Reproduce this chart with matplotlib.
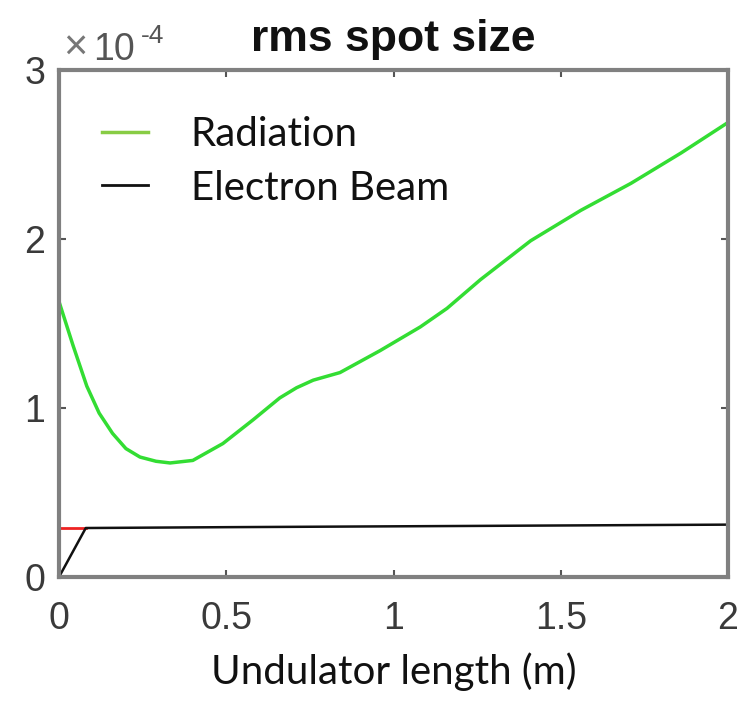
import matplotlib
matplotlib.use("Agg")
import matplotlib.pyplot as plt
from matplotlib.lines import Line2D

# Data (y in units of 1e-4)
rad_x = [0, 0.042, 0.083, 0.12, 0.16, 0.20, 0.242, 0.29, 0.332, 0.40, 0.49, 0.58,
         0.66, 0.71, 0.76, 0.84, 0.96, 1.08, 1.16, 1.26, 1.41, 1.56, 1.71, 1.86, 2.0]
rad_y = [1.63, 1.37, 1.13, 0.97, 0.85, 0.76, 0.71, 0.685, 0.675, 0.69, 0.79, 0.93,
         1.06, 1.12, 1.165, 1.21, 1.34, 1.48, 1.59, 1.76, 1.99, 2.17, 2.33, 2.51, 2.69]
eb_x = [0, 0.08, 0.5, 1.0, 1.5, 2.0]
eb_y = [0, 0.29, 0.295, 0.30, 0.305, 0.31]
red_x = [0, 0.08]
red_y = [0.29, 0.29]
scale = 1e-4

xticks = [0, 0.5, 1, 1.5, 2]
xticklabels = ["0", "0.5", "1", "1.5", "2"]
yticks = [0, 1, 2, 3]
yticklabels = ["0", "1", "2", "3"]

W, H = 747, 708
fig = plt.figure(figsize=(W / 100, H / 100), dpi=100)
ax = fig.add_axes([0.079, 0.185, 0.8956, 0.716])

ax.plot(rad_x, [v * scale for v in rad_y], color="#33dd33", lw=2.5)
ax.plot(red_x, [v * scale for v in red_y], color="#ee2222", lw=2)
ax.plot(eb_x, [v * scale for v in eb_y], color="#111111", lw=1.8)

ax.set_xlim(0, 2)
ax.set_ylim(0, 3 * scale)
ax.set_xticks(xticks)
ax.set_xticklabels(xticklabels)
ax.set_yticks([t * scale for t in yticks])
ax.set_yticklabels(yticklabels)

grey = "#808080"
for s in ax.spines.values():
    s.set_color(grey)
    s.set_linewidth(3)
ax.tick_params(direction="in", length=5, width=1.5, color="#555555",
               top=True, right=True, labelsize=27, labelcolor="#3a3a3a",
               labelfontfamily="Liberation Sans")
ax.tick_params(axis="x", pad=17)
ax.tick_params(axis="y", pad=10)

ax.set_xlabel("Undulator length (m)", fontsize=29, family="Lato",
              color="#111111", labelpad=11)
ax.set_title("rms spot size", fontsize=32, fontweight="bold",
             family="Liberation Sans", color="#111111", pad=14)

# exponent label
def px(x, y):
    return x / W, 1 - y / H

fig.text(*px(63, 60), "\u00d7", fontsize=30, color="#777777",
         family="Liberation Sans", va="baseline")
fig.text(*px(93, 60), "10", fontsize=27, color="#555555",
         family="Liberation Sans", va="baseline")
fig.text(*px(141, 43), "-4", fontsize=19, color="#555555",
         family="Liberation Sans", va="baseline")

handles = [Line2D([0], [0], color="#88cc44", lw=2.5),
           Line2D([0], [0], color="#111111", lw=2)]
leg = ax.legend(handles, ["Radiation", "Electron Beam"], loc="upper left",
                frameon=False, prop={"family": "Lato", "size": 29},
                bbox_to_anchor=(0.01, 0.98), handlelength=1.15,
                handletextpad=1.05, labelspacing=0.4)
for t in leg.get_texts():
    t.set_color("#111111")

fig.savefig("out.png", dpi=100)
